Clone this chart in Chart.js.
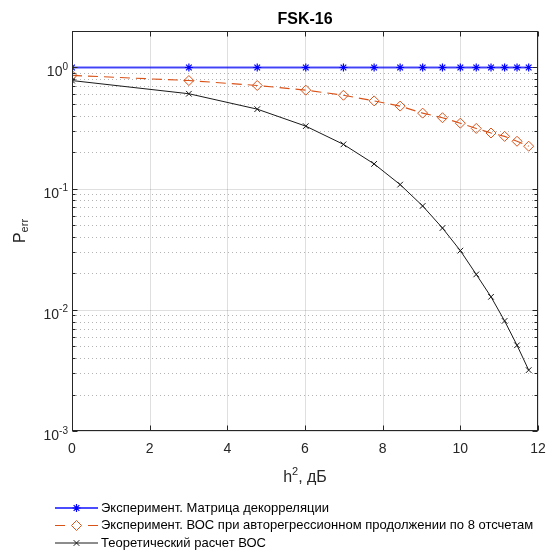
<!DOCTYPE html>
<html>
<head>
<meta charset="utf-8">
<script src="https://cdn.jsdelivr.net/npm/chart.js@4.4.1/dist/chart.umd.min.js"></script>
<style>
  html, body { margin: 0; padding: 0; background: #fff; }
</style>
</head>
<body>
<canvas id="myChart" width="547" height="552"></canvas>
<script>
// Данные графика FSK-16
const chartTitle = 'FSK-16';
const snrDb = [0, 3.01, 4.77, 6.02, 6.99, 7.78, 8.45, 9.03, 9.54, 10, 10.41, 10.79, 11.14, 11.46, 11.76];
const perDecorr = [1, 1, 1, 1, 1, 1, 1, 1, 1, 1, 1, 1, 1, 1, 1];
const perAr8 = [0.86, 0.78, 0.71, 0.65, 0.59, 0.53, 0.48, 0.42, 0.385, 0.347, 0.314, 0.288, 0.27, 0.246, 0.224];
const perTheory = [0.78, 0.607, 0.453, 0.328, 0.232, 0.16, 0.108, 0.072, 0.0473, 0.0308, 0.0196, 0.0128, 0.0081, 0.0051, 0.00318];
const seriesNames = [
  'Эксперимент. Матрица декорреляции',
  'Эксперимент. ВОС при авторегрессионном продолжении по 8 отсчетам',
  'Теоретический расчет ВОС'
];
const xTicks = [0, 2, 4, 6, 8, 10, 12];
const yDecades = [0.001, 0.01, 0.1, 1];

const FONT = '"Liberation Sans", Arial, Helvetica, sans-serif';
const AXIS = '#262626';

function toPoints(ys) {
  return snrDb.map((x, i) => ({ x: x, y: ys[i] }));
}

// Маркер для легенды (как в MATLAB: линия с маркером посередине)
function drawMarker(ctx, style, r, x, y) {
  ctx.beginPath();
  if (style === 'star') {
    ctx.moveTo(x - r, y); ctx.lineTo(x + r, y);
    ctx.moveTo(x, y - r); ctx.lineTo(x, y + r);
    const d = r * Math.SQRT1_2;
    ctx.moveTo(x - d, y - d); ctx.lineTo(x + d, y + d);
    ctx.moveTo(x - d, y + d); ctx.lineTo(x + d, y - d);
  } else if (style === 'rectRot') {
    ctx.moveTo(x - r, y); ctx.lineTo(x, y - r); ctx.lineTo(x + r, y); ctx.lineTo(x, y + r); ctx.closePath();
  } else if (style === 'crossRot') {
    const d = r * Math.SQRT1_2;
    ctx.moveTo(x - d, y - d); ctx.lineTo(x + d, y + d);
    ctx.moveTo(x - d, y + d); ctx.lineTo(x + d, y - d);
  }
  ctx.stroke();
}

const matlabAxes = {
  id: 'matlabAxes',
  beforeDatasetsDraw(chart) {
    const { ctx, chartArea: a, scales: { x, y } } = chart;
    ctx.save();
    ctx.lineWidth = 1;
    // малые деления логарифмической оси - пунктир
    ctx.strokeStyle = 'rgba(38,38,38,0.35)';
    ctx.setLineDash([1, 3]);
    yDecades.forEach(d => {
      for (let k = 2; k <= 9; k++) {
        const v = d * k;
        if (v >= y.max) continue;
        const py = Math.round(y.getPixelForValue(v)) + 0.5;
        ctx.beginPath(); ctx.moveTo(a.left, py); ctx.lineTo(a.right, py); ctx.stroke();
      }
    });
    // основная сетка
    ctx.setLineDash([]);
    ctx.strokeStyle = 'rgba(38,38,38,0.15)';
    yDecades.forEach(v => {
      const py = Math.round(y.getPixelForValue(v)) + 0.5;
      ctx.beginPath(); ctx.moveTo(a.left, py); ctx.lineTo(a.right, py); ctx.stroke();
    });
    xTicks.forEach(v => {
      const px = Math.round(x.getPixelForValue(v)) + 0.5;
      ctx.beginPath(); ctx.moveTo(px, a.top); ctx.lineTo(px, a.bottom); ctx.stroke();
    });
    ctx.restore();
  },
  afterDraw(chart) {
    const { ctx, chartArea: a, scales: { x, y } } = chart;
    ctx.save();
    // рамка и засечки внутрь
    ctx.strokeStyle = AXIS;
    ctx.lineWidth = 1;
    const L = Math.round(a.left) + 0.5, R = Math.round(a.right) - 0.5;
    const T = Math.round(a.top) + 0.5, B = Math.round(a.bottom) - 0.5;
    ctx.strokeRect(L, T, R - L, B - T);
    ctx.beginPath();
    xTicks.forEach(v => {
      const px = Math.round(x.getPixelForValue(v)) + 0.5;
      ctx.moveTo(px, B); ctx.lineTo(px, B - 5);
      ctx.moveTo(px, T); ctx.lineTo(px, T + 5);
    });
    yDecades.forEach(d => {
      for (let k = 1; k <= 9; k++) {
        const v = d * k;
        if (v > y.max) continue;
        const len = k === 1 ? 5 : 3;
        const py = Math.round(y.getPixelForValue(v)) + 0.5;
        ctx.moveTo(L, py); ctx.lineTo(L + len, py);
        ctx.moveTo(R, py); ctx.lineTo(R - len, py);
      }
    });
    ctx.stroke();

    ctx.fillStyle = AXIS;
    // подписи оси X
    ctx.font = '14px ' + FONT;
    ctx.textAlign = 'center';
    ctx.textBaseline = 'alphabetic';
    xTicks.forEach(v => ctx.fillText(String(v), x.getPixelForValue(v), a.bottom + 22));

    // подписи оси Y: 10^n
    ctx.textAlign = 'left';
    yDecades.forEach(v => {
      const py = y.getPixelForValue(v);
      const exp = String(Math.round(Math.log10(v)));
      ctx.font = '10px ' + FONT;
      const ew = ctx.measureText(exp).width;
      const right = a.left - 4;
      ctx.fillText(exp, right - ew, py + 2.5);
      ctx.font = '14px ' + FONT;
      const bw = ctx.measureText('10').width;
      ctx.fillText('10', right - ew - bw, py + 9);
    });

    // заголовок
    ctx.fillStyle = '#000';
    ctx.font = 'bold 16px ' + FONT;
    ctx.textAlign = 'center';
    ctx.fillText(chartTitle, (a.left + a.right) / 2, a.top - 7);

    // подпись оси X: h², дБ
    ctx.fillStyle = AXIS;
    ctx.textAlign = 'left';
    const cx = (a.left + a.right) / 2;
    const bl = a.bottom + 50.5;
    ctx.font = '16px ' + FONT;
    const wH = ctx.measureText('h').width;
    const wRest = ctx.measureText(', дБ').width;
    ctx.font = '11px ' + FONT;
    const w2 = ctx.measureText('2').width;
    let sx = cx - (wH + w2 + wRest) / 2;
    ctx.font = '16px ' + FONT;
    ctx.fillText('h', sx, bl);
    ctx.font = '11px ' + FONT;
    ctx.fillText('2', sx + wH, bl - 7);
    ctx.font = '16px ' + FONT;
    ctx.fillText(', дБ', sx + wH + w2, bl);

    // подпись оси Y: P_err
    ctx.save();
    ctx.translate(25, (a.top + a.bottom) / 2);
    ctx.rotate(-Math.PI / 2);
    ctx.font = '16px ' + FONT;
    const wP = ctx.measureText('P').width;
    ctx.font = '11px ' + FONT;
    const wE = ctx.measureText('err').width;
    const sy = -(wP + wE) / 2;
    ctx.font = '16px ' + FONT;
    ctx.fillText('P', sy, 0);
    ctx.font = '11px ' + FONT;
    ctx.fillText('err', sy + wP, 2.5);
    ctx.restore();

    // легенда под графиком
    chart.data.datasets.forEach((ds, i) => {
      const ly = a.bottom + 77 + i * 17.5;
      const x0 = 55, x1 = 98, xm = (x0 + x1) / 2;
      ctx.strokeStyle = ds.borderColor;
      ctx.lineWidth = ds.borderWidth;
      ctx.beginPath();
      if (ds.borderDash) {
        ctx.moveTo(x0, ly); ctx.lineTo(x0 + 10, ly);
        ctx.moveTo(x1 - 10, ly); ctx.lineTo(x1, ly);
      } else {
        ctx.moveTo(x0, ly); ctx.lineTo(x1, ly);
      }
      ctx.stroke();
      ctx.strokeStyle = ds.pointBorderColor;
      ctx.lineWidth = ds.pointBorderWidth;
      drawMarker(ctx, ds.pointStyle, ds.pointRadius, xm, ly);
      ctx.fillStyle = '#000';
      ctx.font = '13px ' + FONT;
      ctx.textBaseline = 'middle';
      ctx.fillText(ds.label, 101, ly);
      ctx.textBaseline = 'alphabetic';
    });
    ctx.restore();
  }
};

const ctx = document.getElementById('myChart').getContext('2d');
const chart = new Chart(ctx, {
  type: 'line',
  data: {
    datasets: [
      {
        label: seriesNames[0],
        data: toPoints(perDecorr),
        borderColor: 'rgba(0,0,255,0.7)',
        borderWidth: 2,
        pointStyle: 'star',
        pointRadius: 4,
        pointBorderColor: '#0000ff',
        pointBorderWidth: 1.2,
        pointBackgroundColor: 'rgba(0,0,0,0)',
        order: 3
      },
      {
        label: seriesNames[1],
        data: toPoints(perAr8),
        borderColor: '#d95319',
        borderWidth: 1.1,
        borderDash: [10, 6],
        pointStyle: 'rectRot',
        pointRadius: 5,
        pointBorderColor: '#d95319',
        pointBorderWidth: 1,
        pointBackgroundColor: 'rgba(0,0,0,0)',
        order: 2
      },
      {
        label: seriesNames[2],
        data: toPoints(perTheory),
        borderColor: '#1a1a1a',
        borderWidth: 1,
        pointStyle: 'crossRot',
        pointRadius: 4,
        pointBorderColor: '#1a1a1a',
        pointBorderWidth: 1,
        pointBackgroundColor: 'rgba(0,0,0,0)',
        order: 1
      }
    ]
  },
  options: {
    responsive: false,
    devicePixelRatio: 1,
    animation: false,
    layout: { autoPadding: false, padding: { left: 72, top: 31, right: 9, bottom: 121 } },
    elements: { line: { tension: 0 } },
    plugins: { legend: { display: false }, tooltip: { enabled: false }, title: { display: false } },
    scales: {
      x: {
        type: 'linear', min: 0, max: 12,
        ticks: { display: false },
        grid: { display: false, drawTicks: false },
        border: { display: false }
      },
      y: {
        type: 'logarithmic', min: 0.001, max: 2,
        ticks: { display: false },
        grid: { display: false, drawTicks: false },
        border: { display: false }
      }
    }
  },
  plugins: [matlabAxes]
});
</script>
</body>
</html>
